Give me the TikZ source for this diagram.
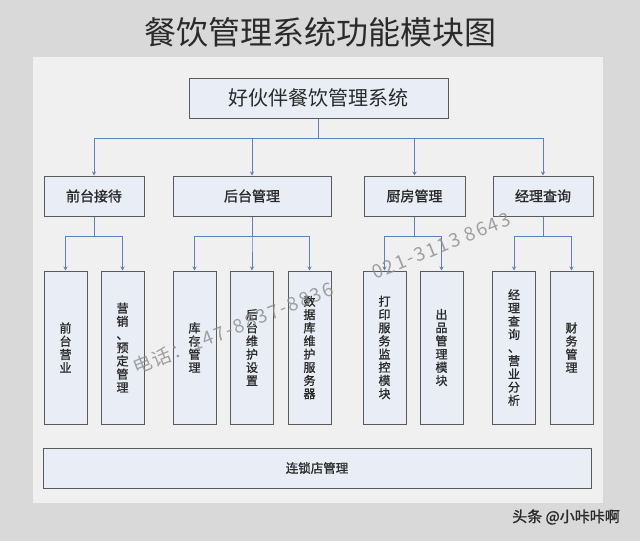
\documentclass[tikz,border=0pt]{standalone}
\usepackage{fontspec}
\setmainfont{Noto Sans CJK SC}
\newfontfamily\cjkb[FakeBold=1.3]{Noto Sans CJK SC}
\newfontfamily\wmfont[LetterSpace=10]{Noto Sans CJK SC}
\usetikzlibrary{arrows.meta}
\definecolor{outerbg}{HTML}{D9D9D9}
\definecolor{panelbg}{HTML}{F0F0F0}
\definecolor{boxfill}{HTML}{E9EEF6}
\definecolor{boxline}{HTML}{5A5A5A}
\definecolor{connc}{HTML}{5F80BD}
\definecolor{txt}{HTML}{2A2A2A}
\definecolor{wm}{HTML}{8C8C8C}
\tikzset{
  box/.style={draw=boxline, line width=1pt, fill=boxfill, inner sep=0pt, text=txt},
  lvltwo/.style={box, minimum height=40pt, font=\cjkb\fontsize{14}{16}\selectfont},
  lvlthree/.style={box, minimum width=43pt, minimum height=153pt, align=center,
     font=\cjkb\fontsize{12}{13.2}\selectfont},
  conn/.style={draw=connc, line width=0.9pt, -{Stealth[length=4pt,width=4pt]}},
  wmark/.style={text=wm, opacity=0.8, font=\wmfont\fontsize{19}{19}\selectfont}
}
\begin{document}
\begin{tikzpicture}[x=1pt,y=-1pt]
\useasboundingbox (0,0) rectangle (640,541);
\fill[outerbg] (0,0) rectangle (640,541);
\fill[panelbg] (33,57) rectangle (603,503);

\node[text=txt, font=\fontsize{32}{34}\selectfont] (title) at (320,32) {餐饮管理系统功能模块图};

\node[box, minimum width=259pt, minimum height=40pt, font=\fontsize{20}{22}\selectfont] (top) at (318.5,98) {好伙伴餐饮管理系统};

\node[lvltwo, minimum width=100pt] (qt) at (94,196) {前台接待};
\node[lvltwo, minimum width=158pt] (ht) at (252,196) {后台管理};
\node[lvltwo, minimum width=101pt] (cf) at (414.5,196) {厨房管理};
\node[lvltwo, minimum width=100pt] (jl) at (543,196) {经理查询};

\node[lvlthree] (a1) at (65.5,347.5) {前\\台\\营\\业};
\node[lvlthree] (a2) at (122.5,347.5) {营\\销\\、\\预\\定\\管\\理};
\node[lvlthree] (b1) at (194.5,347.5) {库\\存\\管\\理};
\node[lvlthree] (b2) at (252,347.5) {后\\台\\维\\护\\设\\置};
\node[lvlthree] (b3) at (309.5,347.5) {数\\据\\库\\维\\护\\服\\务\\器};
\node[lvlthree] (c1) at (384.5,347.5) {打\\印\\服\\务\\监\\控\\模\\块};
\node[lvlthree] (c2) at (441.5,347.5) {出\\品\\管\\理\\模\\块};
\node[lvlthree] (d1) at (514,347.5) {经\\理\\查\\询\\、\\营\\业\\分\\析};
\node[lvlthree] (d2) at (571.5,347.5) {财\\务\\管\\理};

\node[box, minimum width=548pt, minimum height=40pt, font=\cjkb\fontsize{12.5}{14}\selectfont] (ls) at (317,468) {连锁店管理};

\foreach \c in {qt,ht,cf,jl}
  \draw[conn] (top.south) -- ++(0,20) -| (\c.north);
\foreach \c in {a1,a2}
  \draw[conn] (qt.south) -- ++(0,20) -| (\c.north);
\foreach \c in {b1,b2,b3}
  \draw[conn] (ht.south) -- ++(0,20) -| (\c.north);
\foreach \c in {c1,c2}
  \draw[conn] (cf.south) -- ++(0,20) -| (\c.north);
\foreach \c in {d1,d2}
  \draw[conn] (jl.south) -- ++(0,20) -| (\c.north);

\node[wmark, rotate=22] (wm1) at (233,328) {电话：147-8837-8836};
\node[wmark, rotate=22] (wm2) at (441,246) {021-3113 8643};

\node[text=txt, font=\cjkb\fontsize{15}{16}\selectfont] (sig) at (566,517) {头条 @小咔咔啊};
\end{tikzpicture}
\end{document}
